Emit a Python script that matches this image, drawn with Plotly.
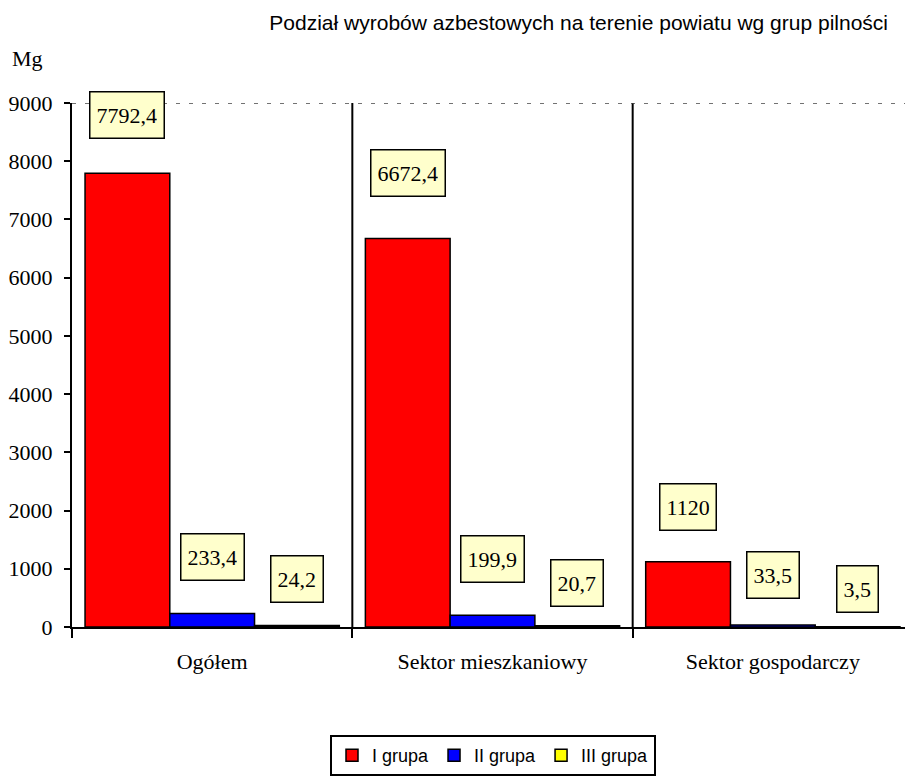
import plotly.graph_objects as go

# ---- data ----
categories = ["Ogółem", "Sektor mieszkaniowy", "Sektor gospodarczy"]
series_names = ["I grupa", "II grupa", "III grupa"]
grupa_I = [7792.4, 6672.4, 1120]
grupa_II = [233.4, 199.9, 33.5]
grupa_III = [24.2, 20.7, 3.5]
series_values = [grupa_I, grupa_II, grupa_III]
series_colors = ["#FF0000", "#0000FF", "#FFFF00"]
y_ticks = [0, 1000, 2000, 3000, 4000, 5000, 6000, 7000, 8000, 9000]

# label box centres (data units on the y axis), per series then per category
label_y = [
    [8790, 7800, 2060],
    [1200, 1170, 890],
    [820, 750, 650],
]

OFF = 8  # default page body margin
W, H = 913 - OFF, 776 - OFF
PL, PR, PT, PB = 72, 913, 103, 628  # plot area in page pixels
ML, MR, MT, MB = PL - OFF, 0, PT - OFF, (H + OFF) - PB
BARGAP = 0.093
SERIF = "Liberation Serif"
SANS = "Liberation Sans"


def fmt(v):
    if float(v).is_integer():
        return str(int(v))
    return ("%.1f" % v).replace(".", ",")


fig = go.Figure()
for name, vals, col in zip(series_names, series_values, series_colors):
    fig.add_trace(go.Bar(
        name=name, x=categories, y=vals,
        marker=dict(color=col, line=dict(color="black", width=1.5)),
    ))

plot_w = W - ML - MR
plot_h = H - MT - MB
cat_px = plot_w / len(categories)
bar_px = cat_px * (1 - BARGAP) / len(series_names)

annotations = []
for s, (vals, ys) in enumerate(zip(series_values, label_y)):
    for c, (cat, v, yy) in enumerate(zip(categories, vals, ys)):
        annotations.append(dict(
            x=cat, y=yy, xref="x", yref="y",
            xshift=(s - 1) * bar_px,
            text=fmt(v), showarrow=False,
            font=dict(family=SERIF, size=22, color="black"),
            bgcolor="#FFFFCC", bordercolor="black", borderwidth=1.5,
            borderpad=6, height=33, valign="middle",
        ))

annotations.append(dict(
    x=(10 - PL) / plot_w, y=(PB - 58) / plot_h,
    xref="paper", yref="paper", xanchor="left", yanchor="middle",
    text="Mg", showarrow=False,
    font=dict(family=SERIF, size=22, color="black"),
))

shapes = [
    dict(type="line", xref="x", yref="paper", x0=0.5, x1=0.5, y0=0, y1=1,
         line=dict(color="black", width=2)),
    dict(type="line", xref="x", yref="paper", x0=1.5, x1=1.5, y0=0, y1=1,
         line=dict(color="black", width=2)),
    dict(type="line", xref="paper", yref="y", x0=0, x1=1, y0=9000, y1=9000,
         line=dict(color="#444444", width=1.5, dash="4px,9px")),
]

fig.update_layout(
    width=W, height=H,
    margin=dict(l=ML, r=MR, t=MT, b=MB),
    paper_bgcolor="white", plot_bgcolor="white",
    barmode="group", bargap=BARGAP, bargroupgap=0,
    title=dict(
        text="Podział wyrobów azbestowych na terenie powiatu wg grup pilności",
        font=dict(family=SANS, size=21, color="black"),
        xref="container", yref="container",
        x=(888 - OFF) / W, xanchor="right",
        y=1 - (23 - OFF) / H, yanchor="middle",
    ),
    xaxis=dict(
        showline=True, linecolor="black", linewidth=1.5,
        ticks="outside", tickson="boundaries", ticklen=9, tickwidth=2,
        tickcolor="black", showgrid=False, ticklabelstandoff=14,
        tickfont=dict(family=SERIF, size=22, color="black"),
    ),
    yaxis=dict(
        range=[0, 9000], tickvals=y_ticks, tickformat="d",
        showline=True, linecolor="black", linewidth=2,
        ticks="outside", ticklen=6, tickwidth=1.5, tickcolor="black",
        showgrid=False, zeroline=False, ticklabelstandoff=7,
        tickfont=dict(family=SERIF, size=22, color="black"),
    ),
    legend=dict(
        orientation="h", x=(493 - PL) / plot_w, xanchor="center",
        y=(PB - 736) / plot_h, yanchor="top",
        bordercolor="black", borderwidth=2, bgcolor="white",
        font=dict(family=SANS, size=18, color="black"),
        itemwidth=30, tracegroupgap=0,
    ),
    annotations=annotations,
    shapes=shapes,
)

fig.write_html("out.html")
